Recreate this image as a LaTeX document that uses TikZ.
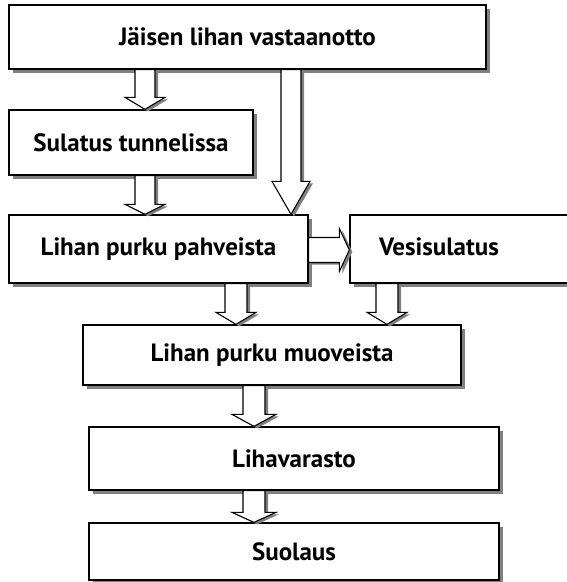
\documentclass[tikz,border=0pt]{standalone}
\usepackage{fontspec}
\setmainfont{PT Sans}
\usetikzlibrary{calc,shadows}
\tikzset{
  procbox/.style={draw=black, line width=1.3pt, fill=white, rectangle, inner sep=0pt,
    font=\bfseries\fontsize{25}{28}\selectfont,
    drop shadow={shadow xshift=3.5pt, shadow yshift=-3.5pt, fill=black!50, opacity=1}},
  blockarrow/.style={draw=black, line width=1.1pt, fill=white, line join=miter,
    drop shadow={shadow xshift=3pt, shadow yshift=-2pt, fill=black!50, opacity=1}},
  labeltext/.style={font=\bfseries\fontsize{25}{28}\selectfont, inner sep=0pt}
}
% #1 start, #2 tip, #3 head length, #4 shaft half width, #5 head half width
\newcommand\blkdown[5]{%
  \path[blockarrow] let \p1=(#1), \p2=(#2) in
    (\x1-#4,\y1) -- (\x1+#4,\y1) -- (\x1+#4,\y2+#3) -- (\x1+#5,\y2+#3) --
    (\x2,\y2) -- (\x1-#5,\y2+#3) -- (\x1-#4,\y2+#3) -- cycle;}
\newcommand\blkright[5]{%
  \path[blockarrow] let \p1=(#1), \p2=(#2) in
    (\x1,\y1+#4) -- (\x2-#3,\y1+#4) -- (\x2-#3,\y1+#5) -- (\x2,\y2) --
    (\x2-#3,\y1-#5) -- (\x2-#3,\y1-#4) -- (\x1,\y1-#4) -- cycle;}
\begin{document}
\begin{tikzpicture}[x=1pt,y=-1pt]
\useasboundingbox[fill=white] (0,0) rectangle (566,582);
% boxes
\node[procbox, minimum width=477pt, minimum height=64pt] (b1) at (247.5,37) {Jäisen lihan vastaanotto};
\node[procbox, minimum width=244pt, minimum height=65pt] (b2) at (131,142.5) {Sulatus tunnelissa};
\node[procbox, minimum width=299pt, minimum height=68pt] (b3) at (158.5,249) {Lihan purku pahveista};
\node[procbox, minimum width=240pt, minimum height=68pt] (b4) at (470,249) {};
\node[labeltext] (t4) at (439,247) {Vesisulatus};
\node[procbox, minimum width=378pt, minimum height=60pt] (b5) at (272,355) {Lihan purku muoveista};
\node[procbox, minimum width=410pt, minimum height=63pt] (b6) at (294,458.5) {Lihavarasto};
\node[procbox, minimum width=410pt, minimum height=57pt] (b7) at (294,551.5) {Suolaus};
% connectors
\coordinate (a1s) at (145,0 |- b1.south); \coordinate (a1e) at (145,0 |- b2.north);
\blkdown{a1s}{a1e}{12pt}{10pt}{20pt}
\coordinate (a2s) at (291,0 |- b1.south); \coordinate (a2e) at (291,0 |- b3.north);
\blkdown{a2s}{a2e}{33pt}{10pt}{19pt}
\coordinate (a3s) at (145,0 |- b2.south); \coordinate (a3e) at (145,0 |- b3.north);
\blkdown{a3s}{a3e}{10pt}{10pt}{20pt}
\coordinate (a4s) at (b3.east |- 0,250); \coordinate (a4e) at (b4.west |- 0,250);
\blkright{a4s}{a4e}{10pt}{12.5pt}{21.5pt}
\coordinate (a5s) at (236,0 |- b3.south); \coordinate (a5e) at (236,0 |- b5.north);
\blkdown{a5s}{a5e}{12pt}{11pt}{20pt}
\coordinate (a6s) at (387,0 |- b4.south); \coordinate (a6e) at (387,0 |- b5.north);
\blkdown{a6s}{a6e}{12pt}{11pt}{20pt}
\coordinate (a7s) at (254,0 |- b5.south); \coordinate (a7e) at (254,0 |- b6.north);
\blkdown{a7s}{a7e}{12pt}{11pt}{22pt}
\coordinate (a8s) at (254,0 |- b6.south); \coordinate (a8e) at (254,0 |- b7.north);
\blkdown{a8s}{a8e}{10pt}{11pt}{22pt}
\end{tikzpicture}
\end{document}
